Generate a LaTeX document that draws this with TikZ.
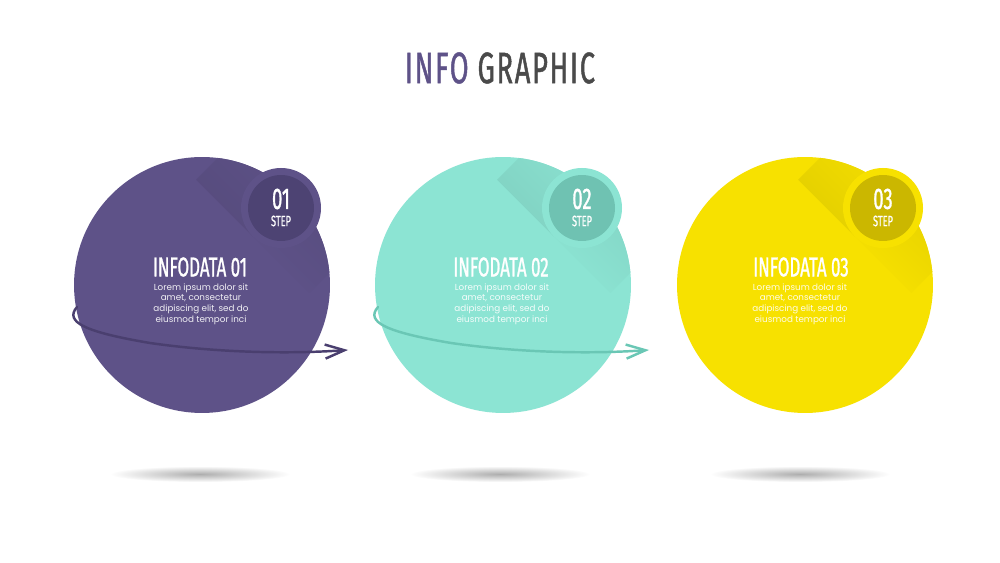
\documentclass[tikz,border=0pt]{standalone}
\usepackage{fontspec}
\setmainfont{Poppins}
\newfontfamily\oswald[FakeStretch=0.62,FakeBold=1]{Fira Sans}
\usetikzlibrary{arrows.meta}
\definecolor{plum}{HTML}{5E5288}
\definecolor{plumdark}{HTML}{4D4373}
\definecolor{plumline}{HTML}{4A3F6F}
\definecolor{mint}{HTML}{8CE4D3}
\definecolor{mintdark}{HTML}{6FC2B2}
\definecolor{mintline}{HTML}{6AC7B5}
\definecolor{lemon}{HTML}{F7E100}
\definecolor{lemondark}{HTML}{CBB700}
\definecolor{ink}{HTML}{4A4A4A}
\tikzset{
  >=latex,
}
\tikzstyle{bigdisc}=[circle,minimum size=5.12cm,inner sep=0pt]
\tikzstyle{badge}=[circle,minimum size=1.6cm,inner sep=0pt]
\tikzstyle{badgecore}=[circle,minimum size=1.32cm,inner sep=0pt]
\tikzstyle{num}=[text=white,inner sep=0pt,font=\oswald\fontsize{17}{17}\selectfont]
\tikzstyle{steplabel}=[text=white,inner sep=0pt,font=\oswald\fontsize{8.5}{8.5}\selectfont]
\tikzstyle{heading}=[text=white,font=\oswald\fontsize{15.5}{15.5}\selectfont]
\tikzstyle{blurb}=[text=white,text opacity=.9,align=center,inner sep=0pt,font=\fontsize{5}{6.1}\selectfont]
\tikzstyle{floor}=[inner color=black!32,outer color=white]
\tikzstyle{orbit}=[line width=1.4pt,line cap=round,-{Straight Barb[length=11pt,width=8pt,line width=1.4pt]}]
% long shadow behind a badge: far half, then near half
\newcommand{\longshade}[3]{%
  \begin{scope}
    \clip (#1) circle (128);
    \shade[left color=#3, right color=#3!92!black, shading angle=-45]
      (#2) ++(28.3,-28.3) -- ++(-56.6,-56.6) -- ++(-56.6,56.6) -- ++(56.6,56.6) -- cycle;
    \shade[left color=#3!92!black, right color=#3, shading angle=-45]
      (#2) ++(28.3,-28.3) -- ++(56.6,56.6) -- ++(-56.6,56.6) -- ++(-56.6,-56.6) -- cycle;
  \end{scope}}

\begin{document}
\begin{tikzpicture}[x=0.02cm,y=-0.02cm]
    \fill[white] (0,0) rectangle (1000,563);
    \useasboundingbox (0,0) rectangle (1000,563);
    \node[text=ink,font=\oswald\fontsize{25}{25}\selectfont\addfontfeature{LetterSpace=4}] (title) at (500,68)
        {\textcolor{plum}{INFO} GRAPHIC};
    % shadows on the floor
    \shade[floor] (200,474) ellipse (90 and 8);
    \shade[floor] (500,474) ellipse (90 and 8);
    \shade[floor] (800,474) ellipse (90 and 8);
    \node[bigdisc,fill=plum] (c1) at (202,285) {};
    \node[bigdisc,fill=mint] (c2) at (503,285) {};
    \node[bigdisc,fill=lemon] (c3) at (805,285) {};
    \node[badge] (b1) at (281,208) {};
    \node[badge] (b2) at (582,208) {};
    \node[badge] (b3) at (883,208) {};
    \longshade{c1}{b1}{plum}
    \longshade{c2}{b2}{mint}
    \longshade{c3}{b3}{lemon}
    \fill[plum] (b1) circle (40);
    \fill[mint] (b2) circle (40);
    \fill[lemon] (b3) circle (40);
    \node[badgecore,fill=plumdark] (k1) at (b1) {};
    \node[badgecore,fill=mintdark] (k2) at (b2) {};
    \node[badgecore,fill=lemondark] (k3) at (b3) {};
    \node[num] (n1) at (281,199) {01};
    \node[num] (n2) at (582,199) {02};
    \node[num] (n3) at (883,199) {03};
    \node[steplabel] (s1) at (281,221) {STEP};
    \node[steplabel] (s2) at (582,221) {STEP};
    \node[steplabel] (s3) at (883,221) {STEP};
    % orbit arrows
    \coordinate (o1s) at (77,307);
    \coordinate (o1e) at (348,350);
    \coordinate (o2s) at (378,307);
    \coordinate (o2e) at (649,350);
    \draw[orbit,plumline] (o1s) .. controls (64,322) and (85,332) .. (150,343)
        .. controls (220,353) and (290,354) .. (o1e);
    \draw[orbit,mintline] (o2s) .. controls (365,322) and (386,332) .. (451,343)
        .. controls (521,353) and (591,354) .. (o2e);
    \node[heading] (h1) at (200,267) {INFODATA 01};
    \node[heading] (h2) at (501,267) {INFODATA 02};
    \node[heading] (h3) at (801,267) {INFODATA 03};
    \node[blurb] (t1) at (201,304) {Lorem ipsum dolor sit\\amet, consectetur\\adipiscing elit, sed do\\eiusmod tempor inci};
    \node[blurb] (t2) at (502,304) {Lorem ipsum dolor sit\\amet, consectetur\\adipiscing elit, sed do\\eiusmod tempor inci};
    \node[blurb] (t3) at (800,304) {Lorem ipsum dolor sit\\amet, consectetur\\adipiscing elit, sed do\\eiusmod tempor inci};
\end{tikzpicture}
\end{document}
